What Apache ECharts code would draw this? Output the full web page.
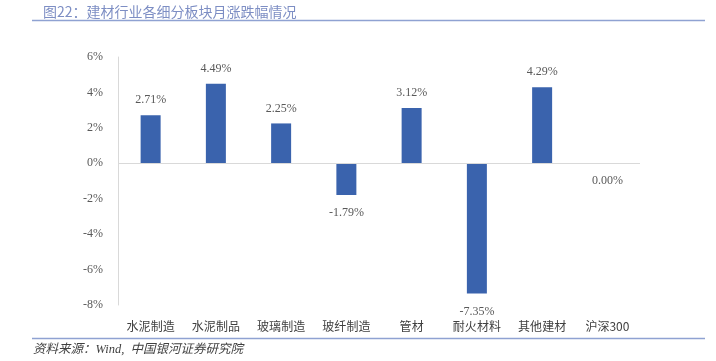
<!DOCTYPE html>
<html><head><meta charset="utf-8">
<script src="https://cdn.jsdelivr.net/npm/echarts@6/dist/echarts.min.js"></script>
<style>html,body{margin:0;padding:0;background:#fff}#c{width:716px;height:361px}</style>
</head><body><div id="c"></div>
<script>
var categories = ['水泥制造','水泥制品','玻璃制造','玻纤制造','管材','耐火材料','其他建材','沪深300'];
var values = [2.71, 4.49, 2.25, -1.79, 3.12, -7.35, 4.29, 0.00];
var yTicks = [-8, -6, -4, -2, 0, 2, 4, 6];
var titleText = '图22：建材行业各细分板块月涨跌幅情况';
var sourceText = '资料来源：Wind,  中国银河证券研究院';

var chart = echarts.init(document.getElementById('c'));
chart.setOption({
  animation: false,
  title: {text: titleText, left: 38, top: 0, textStyle: {fontSize: 14, fontWeight: 'normal', color: '#7d8ec4', fontFamily: 'Noto Sans CJK SC'}},
  graphic: [
    {type: 'line', shape: {x1: 32, y1: 20.5, x2: 705, y2: 20.5}, style: {stroke: '#8fa2d2', lineWidth: 1.5}},
    {type: 'line', shape: {x1: 32, y1: 338.5, x2: 705, y2: 338.5}, style: {stroke: '#8fa2d2', lineWidth: 1.5}},
    {type: 'text', left: 33, top: 343, style: {text: sourceText, font: 'italic 12.5px "Liberation Serif", "Noto Sans CJK SC"', fill: '#404040'}}
  ],
  grid: {left: 118, right: 76, top: 57, bottom: 56},
  xAxis: {
    type: 'category', data: categories,
    axisLine: {show: false}, axisTick: {show: false},
    axisLabel: {margin: 15, fontSize: 12, color: '#404040', fontFamily: 'Noto Sans CJK SC'}
  },
  yAxis: {
    type: 'value', min: -8, max: 6, interval: 2,
    axisLine: {show: true, lineStyle: {color: '#d9d9d9'}},
    axisTick: {show: false}, splitLine: {show: false},
    axisLabel: {formatter: '{value}%', fontSize: 12, color: '#595959', fontFamily: 'Liberation Serif', margin: 15}
  },
  series: [{
    type: 'bar', barWidth: 20,
    data: values.map(function(v){
      return {value: v, label: {position: v > 0 ? 'top' : 'bottom', distance: v > 0 ? 9 : 12}};
    }),
    itemStyle: {color: '#3a63ad'},
    label: {show: true, fontSize: 12, color: '#595959', fontFamily: 'Liberation Serif',
      formatter: function(p){ return p.value.toFixed(2) + '%'; }},
    markLine: {silent: true, symbol: 'none', label: {show: false},
      lineStyle: {color: '#d9d9d9', type: 'solid', width: 1},
      data: [{yAxis: 0}]}
  }]
});
</script></body></html>
